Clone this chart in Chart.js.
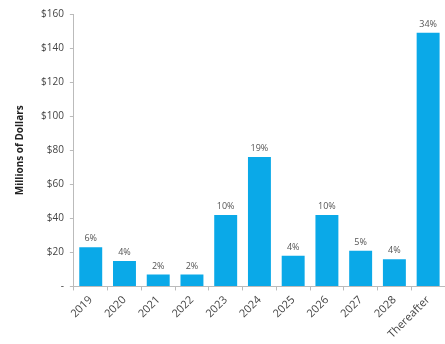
<!DOCTYPE html>
<html>
<head>
<meta charset="utf-8">
<script src="https://cdn.jsdelivr.net/npm/chart.js@4"></script>
<style>
  html, body { margin: 0; padding: 0; background: #fff; }
  #wrap { width: 445px; height: 344px; }
</style>
</head>
<body>
<div id="wrap"><canvas id="chart"></canvas></div>
<script>
const years = ["2019", "2020", "2021", "2022", "2023", "2024", "2025", "2026", "2027", "2028", "Thereafter"];
const amounts = [23, 15, 7, 7, 42, 76, 18, 42, 21, 16, 149];
const shares = ["6%", "4%", "2%", "2%", "10%", "19%", "4%", "10%", "5%", "4%", "34%"];
const yTicks = [0, 20, 40, 60, 80, 100, 120, 140, 160];

const font = "'Open Sans', 'DejaVu Sans', sans-serif";

// percent labels above each bar
const shareLabels = {
    id: "shareLabels",
    afterDatasetsDraw(chart) {
        const ctx = chart.ctx;
        const meta = chart.getDatasetMeta(0);
        ctx.save();
        ctx.font = "9px " + font;
        ctx.fillStyle = "#555";
        ctx.textAlign = "center";
        ctx.textBaseline = "bottom";
        meta.data.forEach(function (bar, i) {
            ctx.fillText(shares[i], bar.x, bar.y - 4);
        });
        ctx.restore();
    }
};

new Chart(document.getElementById("chart"), {
    type: "bar",
    data: {
        labels: years,
        datasets: [{
            data: amounts,
            backgroundColor: "#0aa9e8",
            barPercentage: 0.68,
            categoryPercentage: 1.0
        }]
    },
    options: {
        responsive: true,
        maintainAspectRatio: false,
        animation: false,
        layout: { padding: { top: 14, right: 0, left: 14, bottom: 0 } },
        plugins: {
            legend: { display: false },
            tooltip: { enabled: false }
        },
        scales: {
            x: {
                grid: { display: true, drawOnChartArea: false, tickLength: 4, color: "#bbb", offset: true },
                border: { color: "#bbb" },
                ticks: {
                    minRotation: 45,
                    maxRotation: 45,
                    color: "#444",
                    font: { family: font, size: 11 },
                    padding: 3
                }
            },
            y: {
                min: 0,
                max: 160,
                afterBuildTicks(axis) {
                    axis.ticks = yTicks.map(v => ({ value: v }));
                },
                grid: { display: true, drawOnChartArea: false, tickLength: 4, color: "#bbb" },
                border: { color: "#bbb" },
                ticks: {
                    color: "#444",
                    font: { family: font, size: 10 },
                    padding: 6,
                    callback: v => v === 0 ? "-" : "$" + v
                },
                title: {
                    display: true,
                    text: "Millions of Dollars",
                    color: "#222",
                    font: { family: font, size: 10, weight: "bold" },
                    padding: { top: 0, bottom: 9 }
                }
            }
        }
    },
    plugins: [shareLabels]
});
</script>
</body>
</html>
